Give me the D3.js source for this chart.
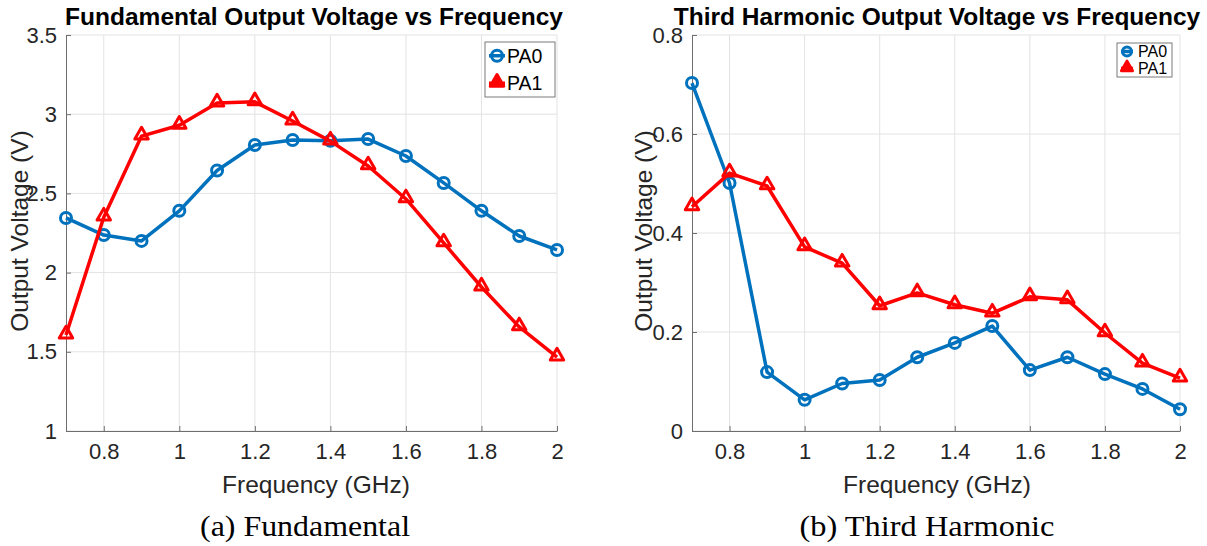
<!DOCTYPE html>
<html><head><meta charset="utf-8">
<script src="https://cdn.jsdelivr.net/npm/d3@7"></script>
<style>body{margin:0;background:#fff}svg{display:block}</style>
</head><body>
<svg id="c" width="1207" height="546"></svg>
<script>
const freq = [0.7,0.8,0.9,1.0,1.1,1.2,1.3,1.4,1.5,1.6,1.7,1.8,1.9,2.0];
const fundPA0 = [2.345,2.237,2.20,2.39,2.645,2.806,2.837,2.832,2.843,2.736,2.566,2.39,2.231,2.143];
const fundPA1 = [1.606,2.35,2.862,2.93,3.07,3.078,2.957,2.83,2.673,2.465,2.187,1.909,1.657,1.467];
const thirdPA0 = [0.703,0.501,0.119,0.063,0.096,0.103,0.149,0.178,0.212,0.123,0.149,0.115,0.085,0.044];
const thirdPA1 = [0.453,0.521,0.495,0.372,0.339,0.253,0.279,0.255,0.238,0.271,0.265,0.198,0.137,0.107];
const xTicks = [0.8,1.0,1.2,1.4,1.6,1.8,2.0];
const fundYTicks = [1,1.5,2,2.5,3,3.5];
const thirdYTicks = [0,0.2,0.4,0.6,0.8];
const seriesNames = ["PA0","PA1"];
const colors = ["#0072BD","#FF0000"];

const svg = d3.select("#c");
const textCol = "#262626";
const sans = "Liberation Sans, Arial, Helvetica, sans-serif";

function panel(cfg){
  const g = svg.append("g");
  const x = d3.scaleLinear().domain([0.7,2.0]).range([cfg.left,cfg.right]);
  const y = d3.scaleLinear().domain(cfg.yDomain).range([cfg.bottom,cfg.top]);
  // grid
  g.append("g").selectAll("line").data(xTicks).join("line")
    .attr("x1",d=>x(d)).attr("x2",d=>x(d)).attr("y1",cfg.top).attr("y2",cfg.bottom)
    .attr("stroke","#e3e3e3").attr("stroke-width",1);
  g.append("g").selectAll("line").data(cfg.yTicks).join("line")
    .attr("x1",cfg.left).attr("x2",cfg.right).attr("y1",d=>y(d)).attr("y2",d=>y(d))
    .attr("stroke","#e3e3e3").attr("stroke-width",1);
  // axes
  const xa = g.append("g").attr("transform",`translate(0,${cfg.bottom})`)
    .call(d3.axisBottom(x).tickValues(xTicks).tickSizeInner(-5).tickSizeOuter(0).tickPadding(12).tickFormat(d3.format("~g")));
  const ya = g.append("g").attr("transform",`translate(${cfg.left},0)`)
    .call(d3.axisLeft(y).tickValues(cfg.yTicks).tickSizeInner(-5).tickSizeOuter(0).tickPadding(9).tickFormat(d3.format("~g")));
  [xa,ya].forEach(a=>{
    a.select(".domain").attr("stroke","#6e6e6e").attr("stroke-width",1);
    a.selectAll(".tick line").attr("stroke","#6e6e6e");
    a.selectAll("text").attr("fill",textCol).style("font-family",sans).style("font-size","22px");
  });
  // lines
  const line = d3.line().x((d,i)=>x(freq[i])).y(d=>y(d));
  cfg.series.forEach((s,k)=>{
    g.append("path").datum(s).attr("d",line).attr("fill","none")
      .attr("stroke",colors[k]).attr("stroke-width",3.5).attr("stroke-linejoin","round");
    const m = g.append("g").selectAll("g").data(s).join("g")
      .attr("transform",(d,i)=>`translate(${x(freq[i])},${y(d)})`);
    if(k===0){
      m.append("circle").attr("r",5.5).attr("fill","none").attr("stroke",colors[k]).attr("stroke-width",3);
    } else {
      m.append("path").attr("d",d3.symbol(d3.symbolTriangle,78)()).attr("transform","translate(0,-1)")
        .attr("fill","none").attr("stroke",colors[k]).attr("stroke-width",3).attr("stroke-linejoin","round");
    }
  });
  // title
  g.append("text").attr("x",cfg.titleX).attr("y",25).attr("text-anchor","middle")
    .style("font-family",sans).style("font-weight","bold").style("font-size","24.5px")
    .attr("fill","#000").text(cfg.title);
  // axis labels
  g.append("text").attr("x",cfg.xlabX).attr("y",493).attr("text-anchor","middle")
    .style("font-family",sans).style("font-size","24.5px").attr("fill",textCol)
    .text("Frequency (GHz)");
  g.append("text").attr("transform",`translate(${cfg.ylabX},${cfg.ylabY}) rotate(-90)`).attr("text-anchor","middle")
    .style("font-family",sans).style("font-size","24.5px").attr("fill",textCol)
    .text("Output Voltage (V)");
  // caption
  g.append("text").attr("x",cfg.capX).attr("y",536).attr("text-anchor","middle")
    .attr("textLength",cfg.capW).attr("lengthAdjust","spacingAndGlyphs")
    .style("font-family","Liberation Serif, 'Times New Roman', serif").style("font-size","29px").attr("fill","#000")
    .text(cfg.caption);
  // legend
  const L = cfg.legend;
  const lg = g.append("g");
  lg.append("rect").attr("x",L.x).attr("y",L.y).attr("width",L.w).attr("height",L.h)
    .attr("fill","#fff").attr("stroke","#7a7a7a").attr("stroke-width",1);
  seriesNames.forEach((n,k)=>{
    const cy = L.y + L.h*(k*2+1)/4;
    const mx = L.x + L.mx;
    lg.append("line").attr("x1",mx-L.ms).attr("x2",mx+L.ms).attr("y1",cy).attr("y2",cy)
      .attr("stroke",colors[k]).attr("stroke-width",3.5);
    if(k===0){
      lg.append("circle").attr("cx",mx).attr("cy",cy).attr("r",L.r).attr("fill","none").attr("stroke",colors[k]).attr("stroke-width",3);
    } else {
      lg.append("path").attr("d",d3.symbol(d3.symbolTriangle,L.r*L.r*2.6)()).attr("transform",`translate(${mx},${cy-1})`)
        .attr("fill",colors[k]).attr("stroke",colors[k]).attr("stroke-width",3).attr("stroke-linejoin","round");
    }
    lg.append("text").attr("x",L.x+L.tx).attr("y",cy).attr("dy","0.36em")
      .style("font-family",sans).style("font-size",L.fs+"px").attr("fill","#000").text(n);
  });
}

panel({left:66,right:557,top:35,bottom:431,yDomain:[1,3.5],yTicks:fundYTicks,
  series:[fundPA0,fundPA1],title:"Fundamental Output Voltage vs Frequency",titleX:314,
  xlabX:316,ylabX:28,ylabY:231,capX:305,capW:210,caption:"(a) Fundamental",
  legend:{x:485,y:42,w:70,h:55,mx:12,ms:8,r:5.5,tx:22,fs:19.5}});
panel({left:692,right:1180,top:35,bottom:431,yDomain:[0,0.8],yTicks:thirdYTicks,
  series:[thirdPA0,thirdPA1],title:"Third Harmonic Output Voltage vs Frequency",titleX:937,
  xlabX:937,ylabX:652,ylabY:231,capX:927,capW:255,caption:"(b) Third Harmonic",
  legend:{x:1117,y:43,w:55,h:34,mx:10,ms:6,r:4.5,tx:21,fs:16}});
</script>
</body></html>
